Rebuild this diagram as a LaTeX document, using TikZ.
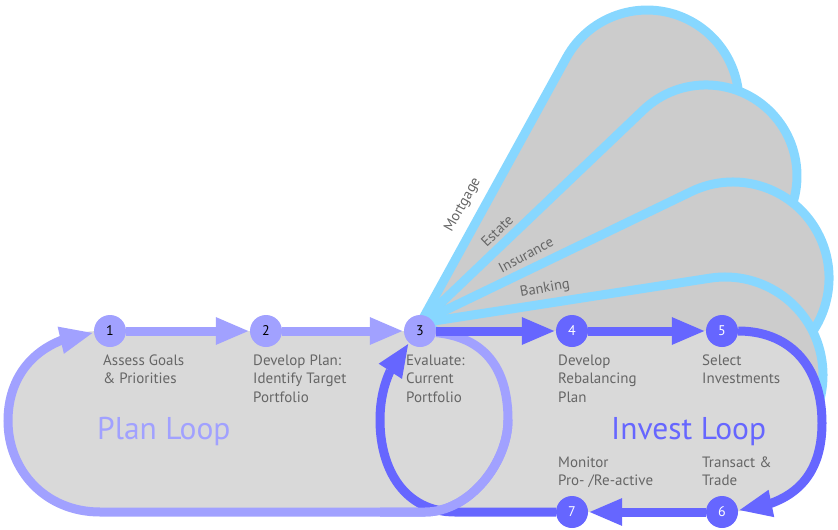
\documentclass[tikz,border=0pt]{standalone}
\usepackage{fontspec}
\setmainfont{PT Sans}
\usetikzlibrary{arrows.meta,bending}
\definecolor{planc}{HTML}{A1A1FF}
\definecolor{investc}{HTML}{6666FF}
\definecolor{petalb}{HTML}{87D7FF}
\definecolor{petalf}{HTML}{CCCCCC}
\definecolor{loopf}{HTML}{D9D9D9}
\definecolor{txt}{HTML}{666666}
\pgfdeclarelayer{petals}\pgfdeclarelayer{fillbg}\pgfdeclarelayer{edges}
\pgfsetlayers{petals,fillbg,edges,main}
\newcommand\lbl[1]{\begin{tabular}[t]{@{}l@{}}#1\end{tabular}}
\begin{document}
\begin{tikzpicture}[x=1pt,y=-1pt,
  num/.style={circle,minimum size=32pt,inner sep=0pt,font=\fontsize{14}{14}\selectfont},
  pnum/.style={num,fill=planc,text=black},
  inum/.style={num,fill=investc,text=white},
  lab/.style={anchor=base west,inner sep=0pt,text=txt,font=\fontsize{15}{18.5}\selectfont},
  plab/.style={inner sep=0pt,text=txt,font=\fontsize{14.5}{14.5}\selectfont},
  planline/.style={draw=planc,line width=9pt},
  investline/.style={draw=investc,line width=9pt},
  petal/.style={fill=petalf,draw=petalb,line width=9pt,line join=round},
  >={Triangle[length=34pt,width=25pt]},
  big/.style={anchor=base west,inner sep=0pt,font=\fontsize{31.5}{31.5}\selectfont}
]
\useasboundingbox (0,0) rectangle (838,530);

% step nodes
\node[pnum] (n1) at (110,331) {1};
\node[pnum] (n2) at (266,331) {2};
\node[pnum] (n3) at (420,331) {3};
\node[inum] (n4) at (572,331) {4};
\node[inum] (n5) at (722,331) {5};
\node[inum] (n6) at (722,512) {6};
\node[inum] (n7) at (572,512) {7};
\coordinate (ap) at (421,322);
\coordinate (apb) at (421,323);

% petals
\begin{pgfonlayer}{petals}
\filldraw[petal] (ap) -- (566.4,57.7) arc[start angle=208.81,end angle=422.73,radius=92] -- cycle;
\filldraw[petal] (ap) -- (643.2,110.1) arc[start angle=226.37,end angle=439.39,radius=91] -- cycle;
\filldraw[petal] (ap) -- (691.3,191.55) arc[start angle=244.23,end angle=459.71,radius=96] -- cycle;
\filldraw[petal] (apb) -- (709.98,278.16) arc[start angle=261.18,end angle=478.24,radius=98] -- cycle;
\end{pgfonlayer}

% loop background
\begin{pgfonlayer}{fillbg}
\fill[loopf] (100,331) -- (722,331) .. controls (787,331) and (822,363) .. (822,423)
  .. controls (822,481) and (787,512) .. (722,512) -- (100,512)
  .. controls (45,512) and (8,470) .. (8,421) .. controls (8,372) and (45,331) .. cycle;
\end{pgfonlayer}

% connectors
\begin{pgfonlayer}{edges}
\draw[planline,->] (n1) -- (n2);
\draw[planline,->] (n2) -- (n3);
\draw[planline,->] (n3) .. controls (490,338) and (508,375) .. (508,420)
  .. controls (508,462) and (470,512) .. (425,512) -- (100,512)
  .. controls (45,512) and (8,470) .. (8,421) .. controls (8,372) and (40,338) .. (n1);
\draw[investline,->] (n3) -- (n4);
\draw[investline,->] (n4) -- (n5);
\draw[investline,->] (n5) .. controls (787,331) and (822,363) .. (822,423)
  .. controls (822,478) and (792,505) .. (n6);
\draw[investline,->] (n6) -- (n7);
\draw[investline,->] (n7) -- (455,512) .. controls (405,512) and (380,470) .. (380,420)
  .. controls (380,385) and (393,360) .. (n3);
\draw[planline] (508,420) .. controls (508,462) and (470,512) .. (425,512) -- (380,512);
\end{pgfonlayer}

% labels
\node[lab] (t1) at (103,365) {\lbl{Assess Goals\\\& Priorities}};
\node[lab] (t2) at (253,365) {\lbl{Develop Plan:\\Identify Target\\Portfolio}};
\node[lab] (t3) at (406,365) {\lbl{Evaluate:\\Current\\Portfolio}};
\node[lab] (t4) at (558,365) {\lbl{Develop\\Rebalancing\\Plan}};
\node[lab] (t5) at (702,365) {\lbl{Select\\Investments}};
\node[lab] (t7) at (558,467) {\lbl{Monitor\\Pro- /Re-active}};
\node[lab] (t6) at (702,467) {\lbl{Transact \&\\Trade}};
\node[big,text=planc] (pl) at (97,439) {Plan Loop};
\node[big,text=investc] (il) at (611,439) {Invest Loop};
\node[plab,rotate=61] (lm) at (463,205) {Mortgage};
\node[plab,rotate=44] (le) at (497,231) {Estate};
\node[plab,rotate=28] (li) at (526,255) {Insurance};
\node[plab,rotate=10] (lb) at (545,289) {Banking};
\end{tikzpicture}
\end{document}
